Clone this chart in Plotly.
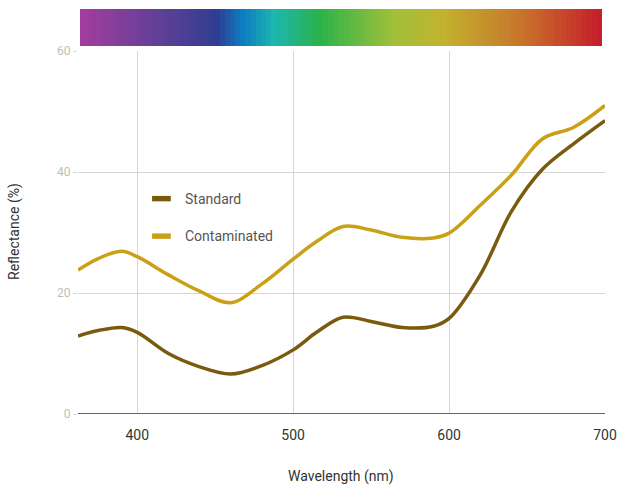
import plotly.graph_objects as go

wavelength = [362, 375, 390, 400, 420, 440, 460, 480, 500, 515, 532, 550, 570, 590, 600, 620, 640, 660, 680, 700]
standard = [12.9, 13.8, 14.3, 13.5, 10.0, 7.8, 6.6, 8.0, 10.6, 13.5, 16.0, 15.3, 14.3, 14.5, 15.8, 23.0, 33.5, 40.5, 44.7, 48.5]
contaminated = [23.8, 25.7, 26.9, 26.0, 23.0, 20.3, 18.4, 21.5, 25.6, 28.5, 31.0, 30.4, 29.2, 29.1, 29.9, 34.5, 39.5, 45.5, 47.4, 51.0]

series_names = ["Standard", "Contaminated"]
series_colors = ["#7a5a0e", "#c9a016"]

x_ticks = [400, 500, 600, 700]
y_ticks = [0, 20, 40, 60]

x_title = "Wavelength (nm)"
y_title = "Reflectance (%)"

# visible spectrum strip
spectrum_x = list(range(0, 101))
spectrum_stops = [
    [0.00, "#a23d9e"], [0.12, "#6d3f98"], [0.26, "#2f3e93"], [0.31, "#0e7cc0"],
    [0.37, "#1bb7b0"], [0.46, "#2cb24a"], [0.60, "#a0c03a"], [0.70, "#c2b22e"],
    [0.85, "#c8742b"], [1.00, "#c51f2a"],
]

fig = go.Figure()

for name, color, vals in zip(series_names, series_colors, [standard, contaminated]):
    fig.add_trace(go.Scatter(
        x=wavelength, y=vals, mode="lines", name=name,
        line=dict(color=color, width=3.5, shape="spline", smoothing=1.0),
        showlegend=False, hoverinfo="x+y",
    ))

fig.add_trace(go.Heatmap(
    z=[spectrum_x], x=spectrum_x, y=[0], colorscale=spectrum_stops,
    showscale=False, xaxis="x2", yaxis="y2", hoverinfo="skip",
))

main_top = (414 - 51) / (414 - 9)
bar_bottom = (414 - 46) / (414 - 9)

fig.update_layout(
    width=617, height=487,
    margin=dict(l=78, r=12, t=9, b=73),
    paper_bgcolor="white", plot_bgcolor="white",
    font=dict(family="Roboto, Arial, sans-serif", color="#333"),
    xaxis=dict(
        range=[362, 700], tickvals=x_ticks, showgrid=True, gridcolor="#d6d6d6",
        gridwidth=1, zeroline=False, showline=False, automargin=False,
        tickfont=dict(size=14, color="#333"), ticks="outside", ticklen=8,
        tickcolor="rgba(0,0,0,0)", domain=[0, 1],
    ),
    yaxis=dict(
        range=[0, 60], tickvals=y_ticks, showgrid=True, gridcolor="#d6d6d6",
        zeroline=False, showline=False, domain=[0, main_top], automargin=False,
        tickfont=dict(size=12, color="#bdbdbd"), ticks="outside", ticklen=4,
        tickcolor="#d6d6d6",
    ),
    xaxis2=dict(domain=[2 / 527, 524 / 527], anchor="y2", visible=False,
                range=[-0.5, 100.5]),
    yaxis2=dict(domain=[bar_bottom, 1.0], anchor="x2", visible=False,
                range=[-0.5, 0.5]),
    showlegend=False,
)

# axis titles
fig.add_annotation(x=(341 - 78) / 527, y=-(477 - 414) / 405, xref="paper", yref="paper",
                   text=x_title, showarrow=False, xanchor="center", yanchor="middle",
                   font=dict(size=14, color="#333"))
fig.add_annotation(x=-(78 - 14) / 527, y=(414 - 232) / 405, xref="paper", yref="paper",
                   text=y_title, textangle=-90, showarrow=False,
                   xanchor="center", yanchor="middle",
                   font=dict(size=14, color="#333"))

# baseline at 0
fig.add_shape(type="line", xref="x", yref="y", x0=362, x1=700, y0=0, y1=0,
              line=dict(color="#666", width=2))

# legend drawn as shapes + text
for name, color, ly in zip(series_names, series_colors, [35.6, 29.4]):
    fig.add_shape(type="rect", xref="x", yref="y",
                  x0=409.5, x1=421.5, y0=ly - 0.45, y1=ly + 0.45,
                  fillcolor=color, line=dict(width=0))
    fig.add_annotation(x=429.5, y=ly, xref="x", yref="y", text=name,
                       showarrow=False, xanchor="left", yanchor="middle",
                       font=dict(size=14, color="#555"))

fig.write_html("out.html", config={"displayModeBar": False},
               post_script="document.body.style.margin='0';document.body.style.overflow='hidden';")
